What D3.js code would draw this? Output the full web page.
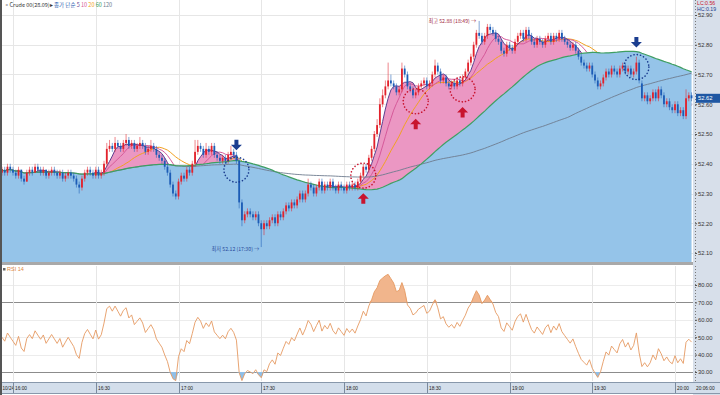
<!DOCTYPE html>
<html>
<head>
<meta charset="utf-8">
<script src="https://cdn.jsdelivr.net/npm/d3@7"></script>
<style>
  body { margin: 0; background: #fff; }
  svg { display: block; }
</style>
</head>
<body>
<div id="chart"></div>
<script>
// 1-minute candles, first bar at 15:56
const startTime = new Date(2018, 9, 24, 15, 56);

const opens = [52.37,52.38,52.37,52.39,52.38,52.37,52.36,52.38,52.35,52.34,52.37,52.38,52.37,52.39,52.38,52.37,52.38,52.36,52.37,52.38,
52.37,52.36,52.37,52.35,52.36,52.37,52.36,52.35,52.33,52.32,52.35,52.37,52.38,52.37,52.36,52.38,52.36,52.37,52.40,52.45,
52.46,52.45,52.47,52.46,52.45,52.47,52.48,52.46,52.47,52.45,52.46,52.47,52.46,52.44,52.45,52.46,52.45,52.43,52.42,52.41,
52.39,52.37,52.33,52.30,52.29,52.34,52.36,52.35,52.38,52.37,52.40,52.44,52.46,52.45,52.43,52.45,52.44,52.46,52.43,52.42,
52.41,52.42,52.41,52.43,52.44,52.43,52.41,52.27,52.21,52.23,52.24,52.23,52.22,52.23,52.20,52.18,52.20,52.19,52.21,52.22,
52.20,52.23,52.22,52.24,52.26,52.25,52.27,52.26,52.28,52.30,52.28,52.30,52.33,52.32,52.30,52.32,52.34,52.31,52.33,52.32,
52.34,52.32,52.31,52.33,52.32,52.31,52.33,52.32,52.33,52.32,52.34,52.36,52.39,52.38,52.42,52.45,52.50,52.53,52.60,52.63,
52.66,52.68,52.67,52.66,52.64,52.65,52.72,52.70,52.66,52.65,52.63,52.64,52.66,52.67,52.68,52.66,52.67,52.70,52.73,52.71,
52.68,52.69,52.67,52.66,52.67,52.66,52.68,52.67,52.69,52.71,52.74,52.76,52.80,52.84,52.83,52.81,52.83,52.86,52.85,52.84,
52.82,52.81,52.78,52.77,52.80,52.79,52.78,52.81,52.83,52.84,52.82,52.85,52.83,52.81,52.80,52.82,52.81,52.80,52.82,52.83,
52.81,52.83,52.82,52.84,52.82,52.81,52.80,52.79,52.80,52.78,52.76,52.74,52.73,52.72,52.73,52.70,52.68,52.66,52.67,52.69,
52.71,52.70,52.72,52.71,52.70,52.72,52.73,52.71,52.72,52.70,52.71,52.74,52.67,52.62,52.63,52.61,52.62,52.64,52.62,52.65,
52.63,52.60,52.61,52.59,52.58,52.60,52.57,52.58,52.56,52.62,52.63];
const highs = [52.39,52.39,52.40,52.40,52.39,52.38,52.39,52.38,52.36,52.38,52.39,52.39,52.40,52.40,52.39,52.39,52.38,52.38,52.39,52.39,
52.38,52.38,52.38,52.37,52.38,52.38,52.37,52.36,52.34,52.36,52.38,52.39,52.39,52.38,52.39,52.39,52.38,52.41,52.47,52.48,
52.47,52.49,52.48,52.47,52.48,52.50,52.49,52.48,52.48,52.47,52.49,52.48,52.47,52.46,52.48,52.47,52.46,52.44,52.43,52.42,
52.40,52.38,52.34,52.31,52.35,52.37,52.37,52.39,52.39,52.41,52.48,52.48,52.47,52.46,52.47,52.46,52.47,52.47,52.44,52.43,
52.43,52.43,52.44,52.46,52.45,52.44,52.42,52.28,52.24,52.25,52.25,52.24,52.24,52.24,52.21,52.21,52.21,52.22,52.23,52.23,
52.24,52.24,52.25,52.27,52.27,52.28,52.28,52.29,52.31,52.31,52.31,52.35,52.34,52.33,52.33,52.35,52.35,52.34,52.34,52.35,
52.35,52.33,52.34,52.34,52.33,52.34,52.34,52.34,52.34,52.35,52.37,52.40,52.40,52.43,52.46,52.51,52.55,52.62,52.65,52.68,
52.74,52.70,52.68,52.67,52.66,52.74,52.73,52.71,52.67,52.66,52.65,52.67,52.68,52.69,52.69,52.68,52.71,52.75,52.74,52.72,
52.70,52.70,52.68,52.68,52.68,52.69,52.69,52.70,52.72,52.75,52.77,52.81,52.85,52.88,52.84,52.84,52.87,52.87,52.86,52.85,
52.83,52.82,52.79,52.81,52.81,52.80,52.82,52.84,52.85,52.85,52.86,52.86,52.84,52.82,52.83,52.83,52.82,52.83,52.84,52.84,
52.84,52.84,52.85,52.85,52.83,52.82,52.81,52.81,52.81,52.79,52.77,52.75,52.74,52.74,52.74,52.71,52.69,52.68,52.70,52.72,
52.72,52.73,52.73,52.72,52.73,52.74,52.74,52.73,52.73,52.72,52.76,52.75,52.68,52.64,52.64,52.63,52.65,52.65,52.66,52.66,
52.64,52.62,52.62,52.60,52.61,52.61,52.59,52.59,52.65,52.64,52.64];
const lows = [52.36,52.36,52.36,52.37,52.36,52.35,52.35,52.34,52.33,52.34,52.36,52.36,52.37,52.37,52.36,52.36,52.35,52.35,52.36,52.36,
52.35,52.35,52.34,52.34,52.35,52.35,52.34,52.32,52.30,52.31,52.34,52.36,52.36,52.35,52.35,52.35,52.35,52.36,52.39,52.44,
52.44,52.44,52.45,52.44,52.44,52.46,52.45,52.45,52.44,52.44,52.45,52.45,52.43,52.43,52.44,52.44,52.42,52.41,52.40,52.38,
52.36,52.32,52.29,52.28,52.28,52.33,52.34,52.34,52.36,52.36,52.39,52.43,52.44,52.42,52.42,52.43,52.43,52.42,52.41,52.40,
52.40,52.40,52.40,52.42,52.42,52.40,52.25,52.19,52.20,52.22,52.22,52.21,52.21,52.19,52.12,52.16,52.18,52.18,52.20,52.19,
52.19,52.21,52.21,52.23,52.24,52.24,52.25,52.25,52.27,52.27,52.27,52.29,52.31,52.29,52.29,52.31,52.30,52.30,52.31,52.31,
52.31,52.30,52.30,52.31,52.30,52.30,52.31,52.31,52.31,52.31,52.33,52.35,52.37,52.37,52.41,52.44,52.49,52.52,52.59,52.62,
52.65,52.66,52.65,52.63,52.63,52.64,52.69,52.65,52.64,52.62,52.62,52.63,52.65,52.66,52.65,52.65,52.66,52.69,52.70,52.67,
52.67,52.66,52.65,52.65,52.65,52.65,52.66,52.66,52.68,52.70,52.73,52.75,52.79,52.82,52.80,52.80,52.82,52.84,52.83,52.81,
52.80,52.77,52.76,52.76,52.78,52.77,52.77,52.80,52.82,52.81,52.81,52.82,52.80,52.79,52.79,52.80,52.79,52.79,52.81,52.80,
52.80,52.81,52.81,52.81,52.80,52.79,52.78,52.78,52.77,52.75,52.73,52.72,52.71,52.71,52.69,52.67,52.65,52.65,52.66,52.68,
52.69,52.69,52.70,52.69,52.69,52.71,52.70,52.70,52.69,52.69,52.70,52.67,52.61,52.61,52.60,52.60,52.61,52.61,52.61,52.62,
52.59,52.59,52.58,52.57,52.57,52.56,52.56,52.55,52.55,52.61,52.61];
const closes = [52.38,52.37,52.39,52.38,52.37,52.36,52.38,52.35,52.34,52.37,52.38,52.37,52.39,52.38,52.37,52.38,52.36,52.37,52.38,52.37,
52.36,52.37,52.35,52.36,52.37,52.36,52.35,52.33,52.32,52.35,52.37,52.38,52.37,52.36,52.38,52.36,52.37,52.40,52.45,52.46,
52.45,52.47,52.46,52.45,52.47,52.48,52.46,52.47,52.45,52.46,52.47,52.46,52.44,52.45,52.46,52.45,52.43,52.42,52.41,52.39,
52.37,52.33,52.30,52.29,52.34,52.36,52.35,52.38,52.37,52.40,52.44,52.46,52.45,52.43,52.45,52.44,52.46,52.43,52.42,52.41,
52.42,52.41,52.43,52.44,52.43,52.41,52.27,52.21,52.23,52.24,52.23,52.22,52.23,52.20,52.18,52.20,52.19,52.21,52.22,52.20,
52.23,52.22,52.24,52.26,52.25,52.27,52.26,52.28,52.30,52.28,52.30,52.33,52.32,52.30,52.32,52.34,52.31,52.33,52.32,52.34,
52.32,52.31,52.33,52.32,52.31,52.33,52.32,52.33,52.32,52.34,52.36,52.39,52.38,52.42,52.45,52.50,52.53,52.60,52.63,52.66,
52.68,52.67,52.66,52.64,52.65,52.72,52.70,52.66,52.65,52.63,52.64,52.66,52.67,52.68,52.66,52.67,52.70,52.73,52.71,52.68,
52.69,52.67,52.66,52.67,52.66,52.68,52.67,52.69,52.71,52.74,52.76,52.80,52.84,52.83,52.81,52.83,52.86,52.85,52.84,52.82,
52.81,52.78,52.77,52.80,52.79,52.78,52.81,52.83,52.84,52.82,52.85,52.83,52.81,52.80,52.82,52.81,52.80,52.82,52.83,52.81,
52.83,52.82,52.84,52.82,52.81,52.80,52.79,52.80,52.78,52.76,52.74,52.73,52.72,52.73,52.70,52.68,52.66,52.67,52.69,52.71,
52.70,52.72,52.71,52.70,52.72,52.73,52.71,52.72,52.70,52.71,52.74,52.68,52.62,52.63,52.61,52.62,52.64,52.62,52.65,52.63,
52.60,52.61,52.59,52.58,52.60,52.57,52.58,52.56,52.62,52.63,52.62];

const maPeriods = [5, 10, 20, 60, 120];
const maColors = ['#5e3f8f', '#d65a9a', '#f2a122', '#3f9e62', '#6e7c8e'];
const priceTicks = [52.10, 52.20, 52.30, 52.40, 52.50, 52.60, 52.70, 52.80, 52.90];
const rsiTicks = [30, 40, 50, 60, 70, 80];
const rsiPeriod = 14;

// trading signals marked on the chart
const signalTimes = ['17:21', '18:07', '18:26', '18:43', '19:46'];
const signalPrices = [52.38, 52.36, 52.61, 52.65, 52.725];
const signalKinds = ['sell', 'buy', 'buy', 'buy', 'sell'];

const W = 720, H = 395;
const plotRight = 693;
const mainTop = 0, mainBottom = 262;
const rsiTop = 266, rsiBottom = 381;
const stripTop = 382, stripBottom = 393;
const font = '"Liberation Sans", Arial, sans-serif';
const upColor = '#e2222c', downColor = '#1c5cb6';

const day = (h, m) => new Date(2018, 9, 24, h, m);
const times = closes.map((_, i) => d3.timeMinute.offset(startTime, i));

const x = d3.scaleTime().domain([day(16, 0), day(20, 0)]).range([13, 675]);
const y = d3.scaleLinear().domain([52.10, 52.90]).range([253, 15]);
const yR = d3.scaleLinear().domain([30, 80]).range([372, 285]);

// simple moving averages (partial window at the start)
const sma = n => closes.map((_, i) => d3.mean(closes.slice(Math.max(0, i - n + 1), i + 1)));
const ma = {};
maPeriods.forEach(p => { ma[p] = sma(p); });

// Wilder RSI, seeded as a balanced market before the first bar
function rsi(n) {
  let ag = 0.008, al = 0.008;
  const out = [50];
  for (let i = 1; i < closes.length; i++) {
    const d = closes[i] - closes[i - 1];
    ag = (ag * (n - 1) + Math.max(d, 0)) / n;
    al = (al * (n - 1) + Math.max(-d, 0)) / n;
    out.push(100 - 100 / (1 + ag / al));
  }
  return out;
}
const rsiValues = rsi(rsiPeriod);

const svg = d3.select('#chart').append('svg')
  .attr('width', W).attr('height', H)
  .style('font-family', font);

svg.append('rect').attr('width', W).attr('height', H).attr('fill', '#fff');

const defs = svg.append('defs');
defs.append('clipPath').attr('id', 'clipMain')
  .append('rect').attr('x', 2).attr('y', mainTop).attr('width', plotRight - 2).attr('height', mainBottom - mainTop);
defs.append('clipPath').attr('id', 'clipRsi')
  .append('rect').attr('x', 2).attr('y', rsiTop).attr('width', plotRight - 2).attr('height', rsiBottom - rsiTop);

const timeTicks = x.ticks(d3.timeMinute.every(30));

// ---------- main pane ----------
const gMain = svg.append('g').attr('clip-path', 'url(#clipMain)');

gMain.selectAll('.hgrid').data(priceTicks).join('line')
  .attr('x1', 2).attr('x2', plotRight)
  .attr('y1', d => Math.round(y(d)) + 0.5).attr('y2', d => Math.round(y(d)) + 0.5)
  .attr('stroke', '#e6e6e6');
gMain.selectAll('.vgrid').data(timeTicks).join('line')
  .attr('x1', d => Math.round(x(d)) + 0.5).attr('x2', d => Math.round(x(d)) + 0.5)
  .attr('y1', mainTop).attr('y2', mainBottom)
  .attr('stroke', '#e6e6e6');

const ma5 = ma[5], ma60 = ma[60];
const maLine = p => d3.line().x(d => x(d)).y((d, i) => y(ma[p][i]));

// pink band where the 5 line is above the 60 line
gMain.append('path')
  .datum(times)
  .attr('d', d3.area().x(d => x(d))
    .y0((d, i) => y(ma60[i]))
    .y1((d, i) => y(Math.max(ma5[i], ma60[i]))))
  .attr('fill', '#eb97c3');

// short averages: the blue cloud drawn next hides them below the 60 line
[20, 10, 5].forEach(p => {
  gMain.append('path').datum(times)
    .attr('d', maLine(p))
    .attr('fill', 'none')
    .attr('stroke', maColors[maPeriods.indexOf(p)])
    .attr('stroke-width', 1);
});

// blue cloud below the 60 line
gMain.append('path')
  .datum(times)
  .attr('d', d3.area().x(d => x(d)).y0(mainBottom).y1((d, i) => y(ma60[i])))
  .attr('fill', '#95c4e9');

[120, 60].forEach(p => {
  gMain.append('path').datum(times)
    .attr('d', maLine(p))
    .attr('fill', 'none')
    .attr('stroke', maColors[maPeriods.indexOf(p)])
    .attr('stroke-width', p === 60 ? 1.2 : 0.9);
});

// candles
const candles = gMain.append('g');
times.forEach((t, i) => {
  const up = closes[i] >= opens[i];
  const col = up ? upColor : downColor;
  const cx = x(t);
  candles.append('line')
    .attr('x1', cx).attr('x2', cx)
    .attr('y1', y(highs[i])).attr('y2', y(lows[i]))
    .attr('stroke', col).attr('stroke-opacity', 0.55).attr('stroke-width', 1);
  const top = y(Math.max(opens[i], closes[i]));
  const bot = y(Math.min(opens[i], closes[i]));
  candles.append('rect')
    .attr('x', cx - 0.9).attr('width', 1.8)
    .attr('y', top).attr('height', Math.max(bot - top, 0.8))
    .attr('fill', col);
});

// high / low annotations
const iHigh = d3.maxIndex(highs), iLow = d3.minIndex(lows);
const fmtT = d3.timeFormat('%H:%M');
gMain.append('text')
  .attr('x', x(times[iHigh]) - 3).attr('y', y(highs[iHigh]) + 2)
  .attr('text-anchor', 'end').attr('font-size', 5.2).attr('fill', '#a0283c')
  .style('font-family', '"Noto Sans CJK KR", sans-serif')
  .text(`최고 ${highs[iHigh].toFixed(2)} (${fmtT(times[iHigh])}) →`);
gMain.append('text')
  .attr('x', x(times[iLow]) - 2).attr('y', y(lows[iLow]) + 4)
  .attr('text-anchor', 'end').attr('font-size', 5.2).attr('fill', '#2a4a9a')
  .style('font-family', '"Noto Sans CJK KR", sans-serif')
  .text(`최저 ${lows[iLow].toFixed(2)} (${fmtT(times[iLow])}) →`);

// signal markers
const parseHM = d3.timeParse('%H:%M');
signalTimes.forEach((s, k) => {
  const hm = parseHM(s);
  const cx = x(day(hm.getHours(), hm.getMinutes()));
  const cy = y(signalPrices[k]);
  const sell = signalKinds[k] === 'sell';
  const col = sell ? '#1b3d8f' : '#c8142e';
  gMain.append('circle')
    .attr('cx', cx).attr('cy', cy).attr('r', 12.5)
    .attr('fill', 'none').attr('stroke', col).attr('stroke-width', 1.6)
    .attr('stroke-dasharray', '0.1,3.2').attr('stroke-linecap', 'round');
  const ay = sell ? cy - 25 : cy + 23;
  const arrow = sell
    ? 'M-2,-5 h4 v5 h3.5 l-5.5,5.5 l-5.5,-5.5 h3.5 z'
    : 'M-2,5 h4 v-5 h3.5 l-5.5,-5.5 l-5.5,5.5 h3.5 z';
  gMain.append('path').attr('transform', `translate(${cx},${ay})`)
    .attr('d', arrow).attr('fill', col);
});

// legend
const legend = svg.append('text').attr('x', 4).attr('y', 7).attr('font-size', 5.5)
  .style('font-family', '"Noto Sans CJK KR", sans-serif');
legend.append('tspan').attr('fill', '#333').text('▫Crude 00(28.09)▸ ');
legend.append('tspan').attr('fill', '#2f64b3').text('종가 단순 ');
maPeriods.forEach((p, k) => legend.append('tspan').attr('fill', maColors[k]).text(p + '  '));

// ---------- separator ----------
svg.append('rect').attr('x', 0).attr('y', mainBottom).attr('width', W).attr('height', 3).attr('fill', '#a9a9a9');

// ---------- RSI pane ----------
const gRsi = svg.append('g').attr('clip-path', 'url(#clipRsi)');
gRsi.selectAll('.rg').data(rsiTicks).join('line')
  .attr('x1', 2).attr('x2', plotRight)
  .attr('y1', d => Math.round(yR(d)) + 0.5).attr('y2', d => Math.round(yR(d)) + 0.5)
  .attr('stroke', d => (d === 70 || d === 30) ? '#8c8c8c' : '#ececec');
gRsi.selectAll('.rv').data(timeTicks).join('line')
  .attr('x1', d => Math.round(x(d)) + 0.5).attr('x2', d => Math.round(x(d)) + 0.5)
  .attr('y1', rsiTop).attr('y2', rsiBottom)
  .attr('stroke', '#e6e6e6');

gRsi.append('path').datum(times)
  .attr('d', d3.area().x(d => x(d)).y0(yR(70)).y1((d, i) => yR(Math.max(rsiValues[i], 70))))
  .attr('fill', '#f1b58c');
gRsi.append('path').datum(times)
  .attr('d', d3.area().x(d => x(d)).y0(yR(30)).y1((d, i) => yR(Math.min(rsiValues[i], 30))))
  .attr('fill', '#8fbfe8');
gRsi.append('path').datum(times)
  .attr('d', d3.line().x(d => x(d)).y((d, i) => yR(rsiValues[i])))
  .attr('fill', 'none').attr('stroke', '#e59a62').attr('stroke-width', 0.9);

svg.append('rect').attr('x', 3).attr('y', rsiTop + 2).attr('width', 2.5).attr('height', 2.5).attr('fill', '#666');
svg.append('text').attr('x', 7).attr('y', rsiTop + 5).attr('font-size', 5.5).attr('fill', '#e0893f')
  .text('RSI 14');

// ---------- right axis panel ----------
svg.append('rect').attr('x', plotRight).attr('y', 0).attr('width', W - plotRight).attr('height', H).attr('fill', '#d7dfea');
svg.append('line').attr('x1', plotRight + 2.5).attr('x2', plotRight + 2.5).attr('y1', 0).attr('y2', mainBottom)
  .attr('stroke', '#777').attr('stroke-dasharray', '1,2');
svg.append('line').attr('x1', plotRight + 2.5).attr('x2', plotRight + 2.5).attr('y1', rsiTop).attr('y2', rsiBottom)
  .attr('stroke', '#777').attr('stroke-dasharray', '1,2');

const axisMain = svg.append('g').attr('transform', `translate(${plotRight + 2},0)`)
  .call(d3.axisRight(y).tickValues(priceTicks).tickSize(2).tickFormat(d3.format('.2f')));
const axisRsi = svg.append('g').attr('transform', `translate(${plotRight + 2},0)`)
  .call(d3.axisRight(yR).tickValues(rsiTicks).tickSize(2).tickFormat(d3.format('.2f')));
[axisMain, axisRsi].forEach(a => {
  a.select('.domain').remove();
  a.selectAll('line').attr('stroke', '#555');
  a.selectAll('text').attr('font-size', 5.8).attr('fill', '#333').attr('x', 3).style('font-family', font);
});

svg.append('text').attr('x', plotRight + 4).attr('y', 5).attr('font-size', 5.2).attr('fill', '#c8142e').text('LC:0.56');
svg.append('text').attr('x', plotRight + 4).attr('y', 11).attr('font-size', 5.2).attr('fill', '#1b3d8f').text('HC:0.19');

// current price box
const last = closes[closes.length - 1];
svg.append('rect').attr('x', plotRight + 3).attr('y', y(last) - 4.5).attr('width', W - plotRight - 3).attr('height', 9)
  .attr('fill', '#1f57a3');
svg.append('text').attr('x', plotRight + 5).attr('y', y(last) + 2).attr('font-size', 5.8).attr('fill', '#fff')
  .text(last.toFixed(2));

// ---------- time strip ----------
svg.append('rect').attr('x', 0).attr('y', stripTop).attr('width', W).attr('height', stripBottom - stripTop).attr('fill', '#d3deeb');
svg.append('line').attr('x1', 0).attr('x2', W).attr('y1', stripTop + 0.5).attr('y2', stripTop + 0.5).attr('stroke', '#8898ab');
svg.append('line').attr('x1', 0).attr('x2', W).attr('y1', stripBottom + 0.5).attr('y2', stripBottom + 0.5).attr('stroke', '#8898ab');
svg.append('text').attr('x', 2.5).attr('y', stripTop + 7.5).attr('font-size', 4.6).attr('fill', '#222').text('10/24');
timeTicks.forEach(t => {
  const tx = Math.round(x(t)) + 0.5;
  svg.append('line').attr('x1', tx).attr('x2', tx).attr('y1', stripTop).attr('y2', stripBottom).attr('stroke', '#7a8a9e');
  svg.append('text').attr('x', tx + 1.5).attr('y', stripTop + 7.5).attr('font-size', 4.8).attr('fill', '#222')
    .text(d3.timeFormat('%H:%M')(t));
});
svg.append('text').attr('x', plotRight + 3).attr('y', stripTop + 7.5).attr('font-size', 4.8).attr('fill', '#222')
  .text(d3.timeFormat('%H:%M:%S')(times[times.length - 1]));

// window border
svg.append('rect').attr('x', 0).attr('y', 0).attr('width', 2).attr('height', H).attr('fill', '#555');
</script>
</body>
</html>
